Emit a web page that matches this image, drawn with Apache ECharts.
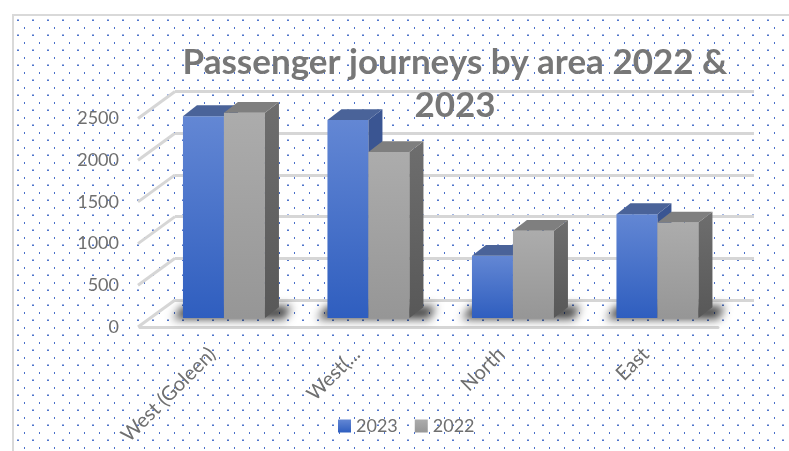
<!DOCTYPE html>
<html>
<head>
<meta charset="utf-8">
<script src="https://cdn.jsdelivr.net/npm/echarts@6/dist/echarts.min.js"></script>
<style>
  html, body { margin: 0; padding: 0; background: #fff; }
  #chart { width: 789px; height: 451px; }
</style>
</head>
<body>
<div id="chart"></div>
<script>
var categories = ['West (Goleen)', 'West(...', 'North', 'East'];
var journeys2023 = [2420, 2375, 745, 1245];
var journeys2022 = [2460, 1990, 1045, 1145];
var valueTicks = [0, 500, 1000, 1500, 2000, 2500];

// fake 3D: full floor depth and the slice a bar takes of it (pixels)
var DEPTH_X = 35, DEPTH_Y = -27;
var BAR_W = 41, BAR_DX = 14, BAR_DY = -10.8;
var textGray = '#6f6f6f';
var gridGray = '#d6d6d6';

// dotted pattern fill of the chart area
var dots = document.createElement('canvas');
dots.width = 15;
dots.height = 15;
var ctx = dots.getContext('2d');
ctx.fillStyle = '#ffffff';
ctx.fillRect(0, 0, 15, 15);
ctx.fillStyle = '#a3b6e4';
ctx.fillRect(2, 4, 2, 1);
ctx.fillStyle = '#4f75cc';
ctx.fillRect(2, 5, 2, 1);
ctx.fillStyle = '#4a70c9';
ctx.fillRect(9, 12, 1, 2);

function vgrad(a, b) {
  return new echarts.graphic.LinearGradient(0, 0, 0, 1, [
    { offset: 0, color: a },
    { offset: 1, color: b }
  ]);
}

var blueFront = vgrad('#6387d4', '#2f5ebf');
var grayFront = vgrad('#acacac', '#969696');

function barRenderer(left, front, topFace, sideFace) {
  return function (params, api) {
    var base = api.coord([api.value(0), 0]);
    var tip = api.coord([api.value(0), api.value(1)]);
    var x0 = left ? base[0] - BAR_W : base[0];
    var x1 = x0 + BAR_W;
    var yb = base[1], yt = tip[1];
    return {
      type: 'group',
      children: [
        {
          type: 'rect',
          shape: { x: x0, y: yt, width: BAR_W, height: yb - yt },
          style: { fill: front }
        },
        {
          type: 'polygon',
          shape: { points: [[x1, yt], [x1 + BAR_DX, yt + BAR_DY], [x1 + BAR_DX, yb + BAR_DY], [x1, yb]] },
          style: { fill: sideFace }
        },
        {
          type: 'polygon',
          shape: { points: [[x0, yt], [x1, yt], [x1 + BAR_DX, yt + BAR_DY], [x0 + BAR_DX, yt + BAR_DY]] },
          style: { fill: topFace }
        }
      ]
    };
  };
}

var chart = echarts.init(document.getElementById('chart'));
chart.setOption({
  animation: false,
  graphic: [{
    type: 'rect',
    z: -100,
    silent: true,
    shape: { x: 13, y: 15, width: 800, height: 460 },
    style: { fill: { image: dots, repeat: 'repeat' }, stroke: '#d9d9d9', lineWidth: 2 }
  }],
  title: {
    text: 'Passenger journeys by area 2022 &\n2023',
    left: 450,
    top: 36,
    textAlign: 'center',
    textStyle: {
      fontFamily: 'Lato',
      fontWeight: 'bold',
      fontSize: 35,
      lineHeight: 43,
      color: '#777777'
    }
  },
  legend: {
    data: ['2023', '2022'],
    left: 333,
    top: 412,
    icon: 'rect',
    itemWidth: 13,
    itemHeight: 13,
    itemGap: 17,
    textStyle: { fontFamily: 'Lato', fontSize: 18, color: textGray }
  },
  grid: [
    { left: 151.7, right: 59.3, top: 109.5, bottom: 133 }, // bar front plane
    { left: 140, right: 71, top: 118.5, bottom: 124 },     // front edge of floor
    { left: 175, right: 35, top: 91.5, bottom: 151 }       // back wall
  ],
  xAxis: [
    { gridIndex: 0, type: 'category', data: categories, show: false },
    {
      gridIndex: 1, type: 'category', data: categories,
      axisTick: { show: false },
      axisLine: { lineStyle: { color: gridGray, width: 3 } },
      axisLabel: { rotate: 45, margin: 24, fontFamily: 'Lato', fontSize: 20, color: textGray }
    },
    { gridIndex: 2, type: 'category', data: categories, show: false }
  ],
  yAxis: [
    { gridIndex: 0, type: 'value', min: 0, max: 2500, interval: 500, show: false },
    {
      gridIndex: 1, type: 'value', min: 0, max: 2500, interval: 500,
      axisLine: { show: false }, axisTick: { show: false }, splitLine: { show: false },
      axisLabel: {
        margin: 21, fontFamily: 'Lato', fontSize: 18, color: textGray,
        formatter: function (v) { return String(v); }
      }
    },
    {
      gridIndex: 2, type: 'value', min: 0, max: 2500, interval: 500,
      axisLine: { show: false }, axisTick: { show: false }, axisLabel: { show: false },
      splitLine: { lineStyle: { color: gridGray, width: 3 } }
    }
  ],
  series: [
    {
      // side wall lines from the front edge to the back wall
      type: 'custom', silent: true, z: 1,
      xAxisIndex: 1, yAxisIndex: 1,
      data: valueTicks.map(function (v) { return [0, v]; }),
      renderItem: function (params, api) {
        var y = api.coord([0, api.value(1)])[1];
        var x = params.coordSys.x;
        return {
          type: 'line',
          shape: { x1: x - 2, y1: y, x2: x + DEPTH_X, y2: y + DEPTH_Y },
          style: { stroke: gridGray, lineWidth: 3 }
        };
      }
    },
    {
      // soft shadow on the floor under each pair of bars
      type: 'custom', silent: true, z: 1,
      xAxisIndex: 0, yAxisIndex: 0,
      data: categories.map(function (c, i) { return [i, 0]; }),
      renderItem: function (params, api) {
        var b = api.coord([api.value(0), 0]);
        var cx = b[0], y = b[1], off = 2000;
        return {
          type: 'polygon',
          shape: {
            points: [
              [cx - BAR_W - 10 - off, y + 1],
              [cx + BAR_W + 20 - off, y + 1],
              [cx + BAR_W + BAR_DX + 12 - off, y - 12],
              [cx - BAR_W - off, y - 12]
            ]
          },
          style: {
            fill: '#000',
            shadowColor: 'rgba(0,0,0,0.75)',
            shadowBlur: 10,
            shadowOffsetX: off
          }
        };
      }
    },
    {
      name: '2023', type: 'custom', z: 2,
      xAxisIndex: 0, yAxisIndex: 0,
      itemStyle: { color: blueFront },
      data: journeys2023.map(function (v, i) { return [i, v]; }),
      renderItem: barRenderer(true, blueFront, '#4a6399', '#3a5592')
    },
    {
      name: '2022', type: 'custom', z: 2,
      xAxisIndex: 0, yAxisIndex: 0,
      itemStyle: { color: grayFront },
      data: journeys2022.map(function (v, i) { return [i, v]; }),
      renderItem: barRenderer(false, grayFront, '#7f7f7f', vgrad('#6e6e6e', '#585858'))
    }
  ]
});
</script>
</body>
</html>
